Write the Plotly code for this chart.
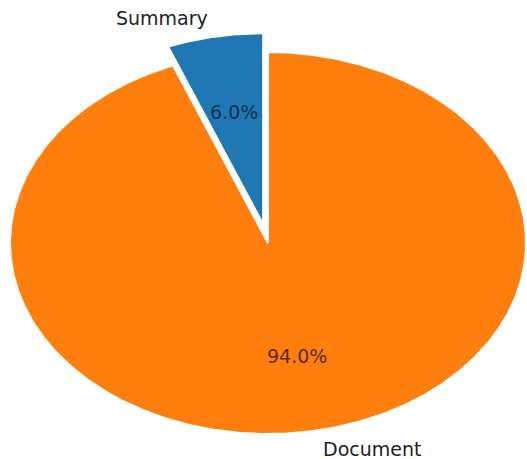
import numpy as np
import plotly.graph_objects as go

# Pie data
labels = ["Summary", "Document"]
shares = [6.0, 94.0]
explode = [0.1, 0.0]
colors = ["#1f77b4", "#ff7f0e"]
pct_colors = ["#16304f", "#5a2a0c"]

# Canvas and ellipse geometry (pixel units, y grows downward)
W, H = 527, 459
cx, cy = 268.0, 243.0
rx, ry = 258.0, 191.0
start_angle = 90.0
label_dist = 1.1
pct_dist = 0.6

fig = go.Figure()
annotations = []

total = float(sum(shares))
theta = start_angle
for lab, val, ex, col, pcol in zip(labels, shares, explode, colors, pct_colors):
    sweep = 360.0 * val / total
    a0, a1 = theta, theta + sweep
    mid = np.deg2rad((a0 + a1) / 2.0)
    ox = cx + ex * rx * np.cos(mid)
    oy = cy - ex * ry * np.sin(mid)

    t = np.deg2rad(np.linspace(a0, a1, max(int(sweep * 2), 8)))
    xs = np.concatenate([[ox], ox + rx * np.cos(t), [ox]])
    ys = np.concatenate([[oy], oy - ry * np.sin(t), [oy]])
    fig.add_trace(go.Scatter(
        x=xs, y=ys, mode="lines", fill="toself", fillcolor=col,
        line=dict(color="white", width=2), hoverinfo="skip", showlegend=False,
    ))

    # category label outside the wedge
    lx = ox + label_dist * rx * np.cos(mid)
    ly = oy - label_dist * ry * np.sin(mid)
    annotations.append(dict(
        x=lx, y=ly, text=lab, showarrow=False,
        xanchor="left" if np.cos(mid) >= 0 else "right", yanchor="middle",
        font=dict(family="DejaVu Sans", size=19, color="#222222"),
    ))

    # percentage label inside the wedge
    px = ox + pct_dist * rx * np.cos(mid)
    py = oy - pct_dist * ry * np.sin(mid)
    annotations.append(dict(
        x=px, y=py, text=f"{val / total * 100:.1f}%", showarrow=False,
        xanchor="center", yanchor="middle",
        font=dict(family="DejaVu Sans", size=19, color=pcol),
    ))
    theta = a1

fig.update_layout(
    width=W, height=H,
    margin=dict(l=0, r=0, t=0, b=0),
    paper_bgcolor="white", plot_bgcolor="white",
    xaxis=dict(range=[0, W], visible=False, fixedrange=True),
    yaxis=dict(range=[H, 0], visible=False, fixedrange=True),
    annotations=annotations,
    showlegend=False,
)

fig.write_html("out.html")
